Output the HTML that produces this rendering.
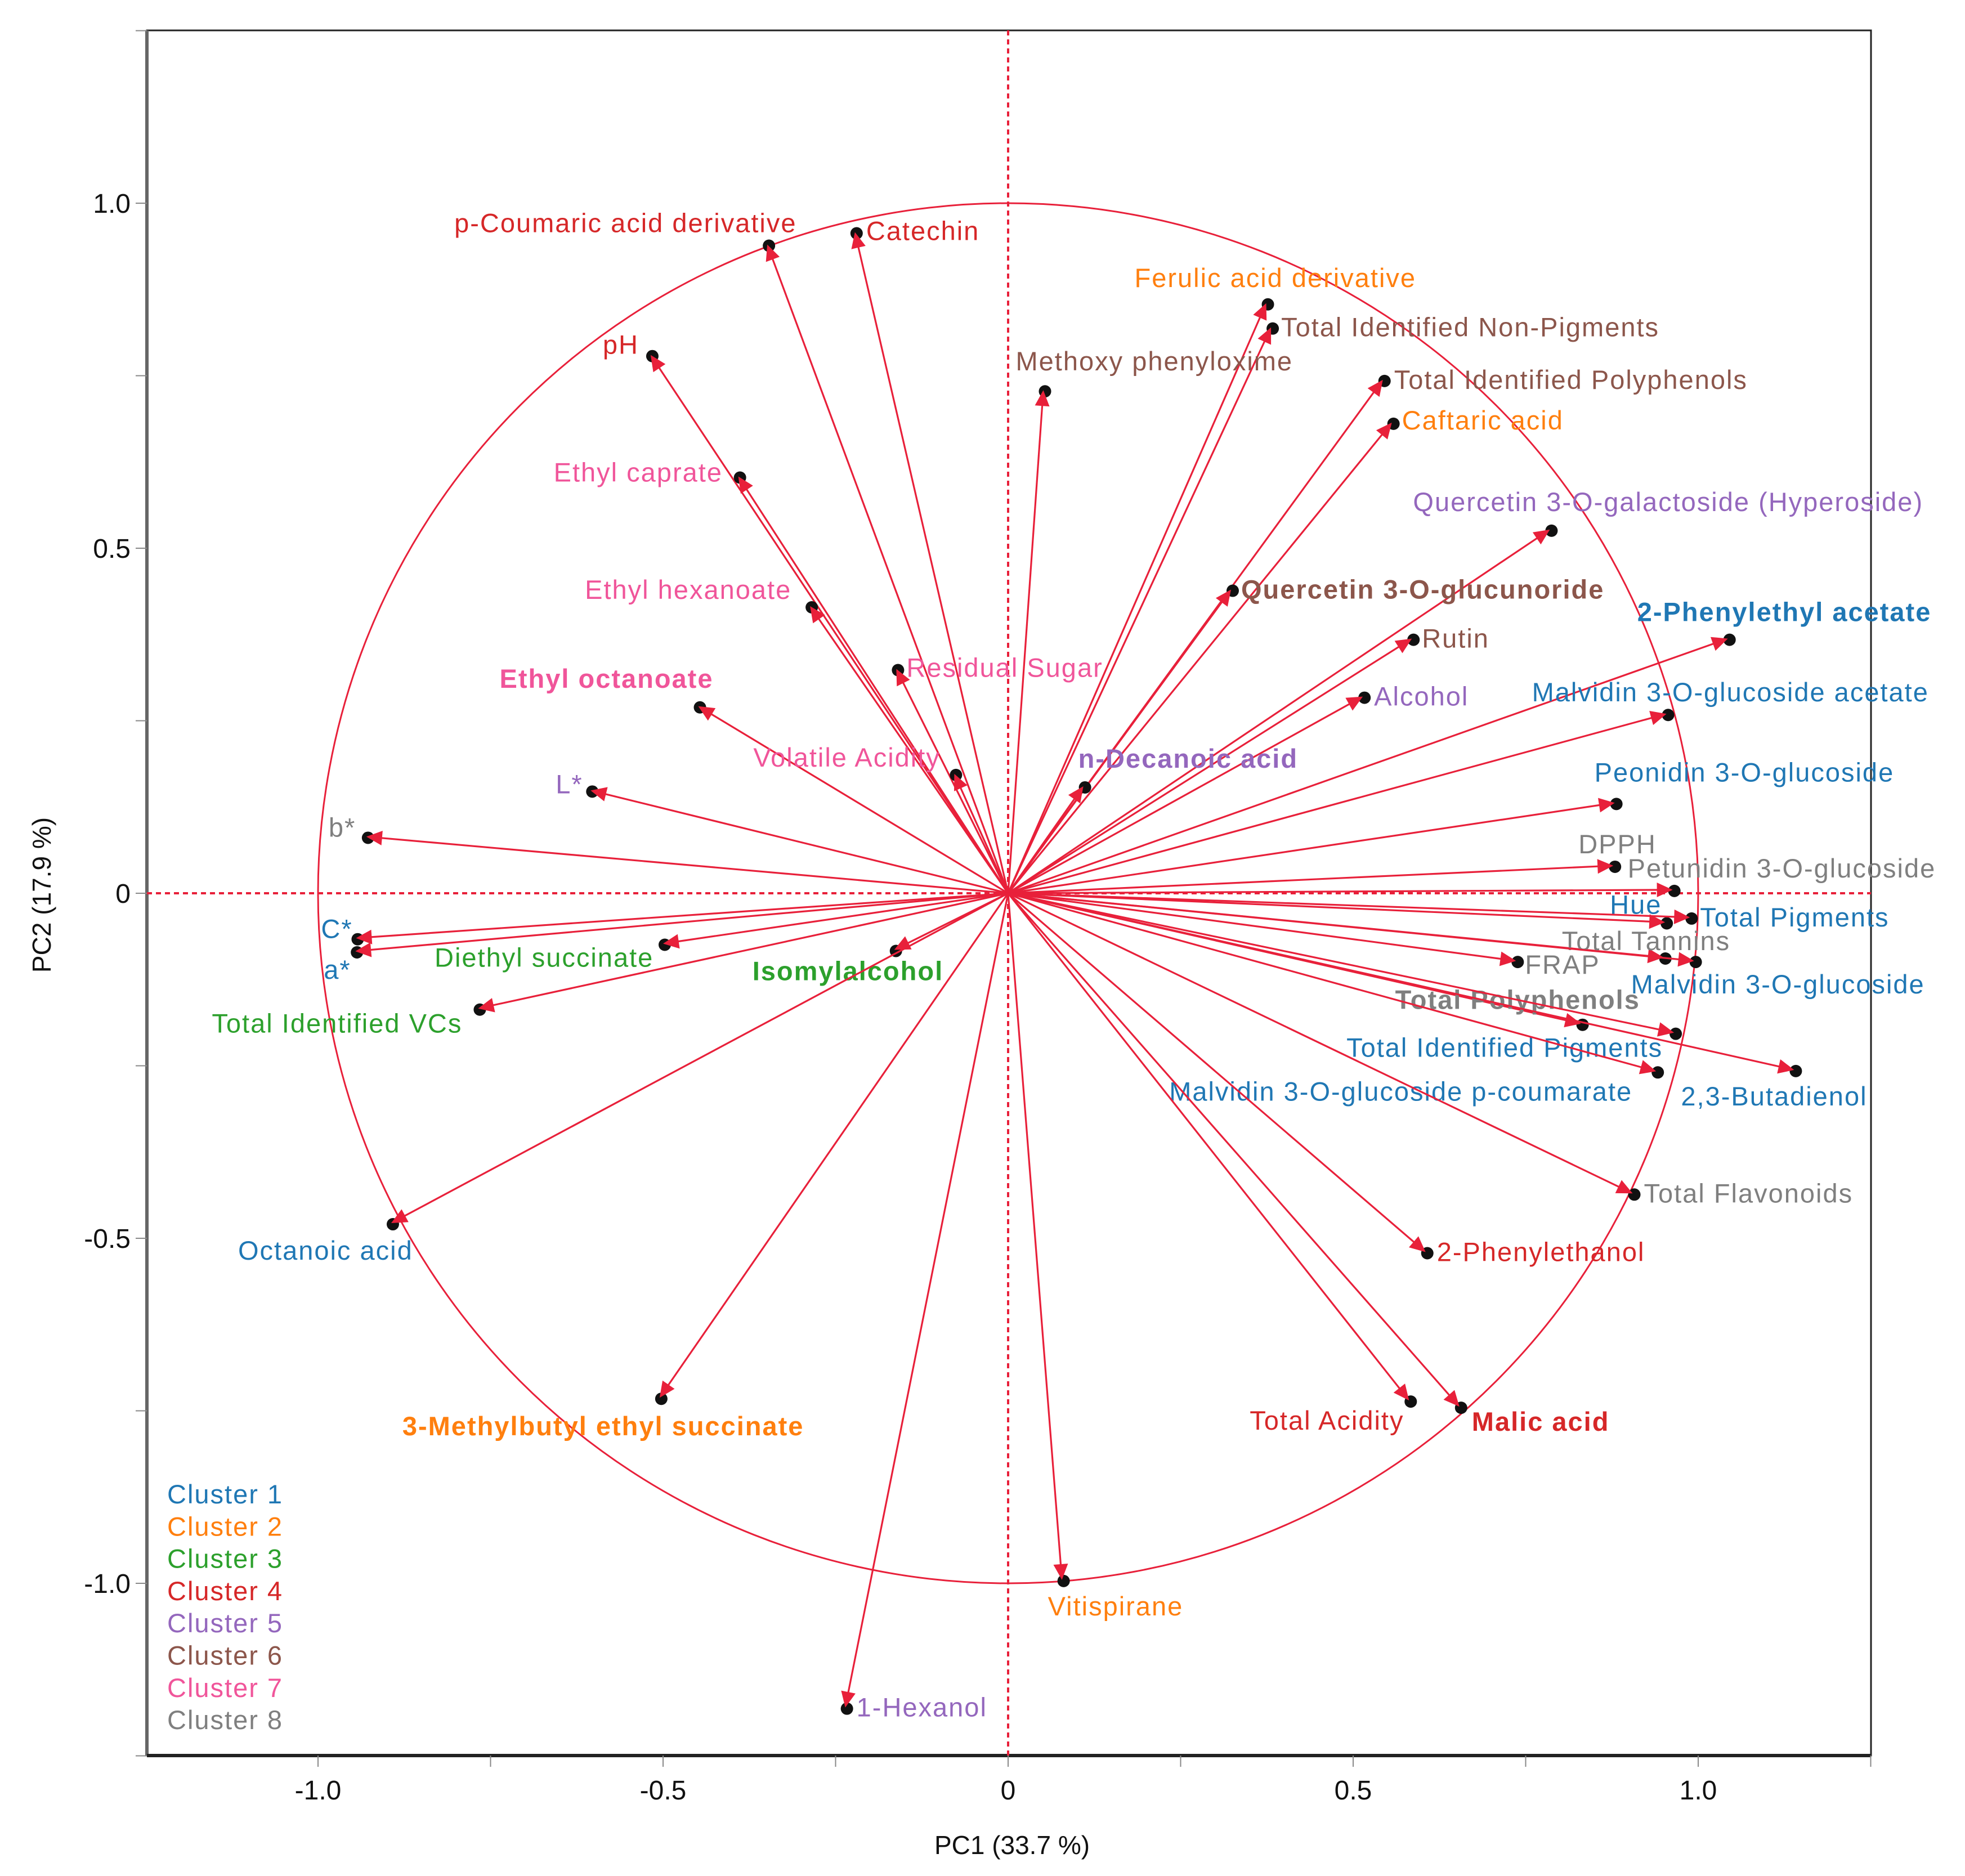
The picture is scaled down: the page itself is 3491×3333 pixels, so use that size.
<!DOCTYPE html>
<html><head><meta charset="utf-8">
<style>
html,body{margin:0;padding:0;background:#fff;}
svg{display:block;font-family:"Liberation Sans",sans-serif;}
</style></head>
<body>
<svg id="chart" width="3491" height="3333" viewBox="0 0 3491 3333" xmlns="http://www.w3.org/2000/svg">
<rect x="0" y="0" width="3491" height="3333" fill="#fff"/>
<g id="plot"></g>
</svg>
<script>
const variables = ["p-Coumaric acid derivative","Catechin","pH","Ferulic acid derivative","Total Identified Non-Pigments","Methoxy phenyloxime","Total Identified Polyphenols","Caftaric acid","Ethyl caprate","Quercetin 3-O-galactoside (Hyperoside)","Quercetin 3-O-glucunoride","Ethyl hexanoate","Rutin","2-Phenylethyl acetate","Residual Sugar","Alcohol","Ethyl octanoate","Malvidin 3-O-glucoside acetate","Volatile Acidity","n-Decanoic acid","L*","Peonidin 3-O-glucoside","b*","DPPH","Petunidin 3-O-glucoside","Hue","Total Pigments","C*","a*","Diethyl succinate","Isomylalcohol","Total Tannins","FRAP","Malvidin 3-O-glucoside","Total Identified VCs","Total Polyphenols","Total Identified Pigments","Malvidin 3-O-glucoside p-coumarate","2,3-Butadienol","Total Flavonoids","Octanoic acid","2-Phenylethanol","3-Methylbutyl ethyl succinate","Total Acidity","Malic acid","Vitispirane","1-Hexanol"];
const pc1 = [-0.349,-0.222,-0.518,0.374,0.381,0.051,0.543,0.556,-0.391,0.785,0.323,-0.287,0.585,1.043,-0.162,0.514,-0.449,0.954,-0.078,0.109,-0.605,0.879,-0.930,0.877,0.963,0.952,0.988,-0.945,-0.946,-0.500,-0.165,0.950,0.736,0.994,-0.768,0.830,0.965,0.939,1.139,0.905,-0.894,0.605,-0.505,0.581,0.654,0.078,-0.236];
const pc2 = [0.940,0.958,0.780,0.855,0.820,0.729,0.744,0.682,0.604,0.527,0.440,0.416,0.369,0.369,0.325,0.285,0.271,0.260,0.173,0.155,0.149,0.131,0.082,0.040,0.005,-0.042,-0.035,-0.065,-0.084,-0.073,-0.082,-0.093,-0.098,-0.098,-0.167,-0.189,-0.202,-0.258,-0.256,-0.435,-0.478,-0.520,-0.731,-0.735,-0.744,-0.995,-1.180];
const cluster = [4,4,4,2,6,6,6,2,7,5,6,7,6,1,7,5,7,1,7,5,5,1,8,8,8,1,1,1,1,3,3,8,8,1,3,8,1,1,1,8,1,4,2,4,4,2,5];
const boldLabel = [0,0,0,0,0,0,0,0,0,0,1,0,0,1,0,0,1,0,0,1,0,0,0,0,0,0,0,0,0,0,1,0,0,0,0,1,0,0,0,0,0,0,1,0,1,0,0];
const xTicks = [-1.0,-0.5,0,0.5,1.0];
const yTicks = [1.0,0.5,0,-0.5,-1.0];
const tickText = {"-1":"-1.0","-0.5":"-0.5","0":"0","0.5":"0.5","1":"1.0"};
const clusterNames = ["Cluster 1","Cluster 2","Cluster 3","Cluster 4","Cluster 5","Cluster 6","Cluster 7","Cluster 8"];
/* label layout offsets (px, layout only) */
const ldx = [-556,20,-85,-234,18,-49,20,18,-328,-243,18,-400,18,-161,18,20,-353,-239,-357,-9,-62,-36,-67,-62,-80,-98,18,-62,-56,-406,-252,-181,16,-112,-473,-330,-582,-865,-201,20,-272,20,-457,-283,22,-25,20];
const ldy = [-38,-2,-18,-45,0,-51,0,-4,-7,-49,0,-29,0,-47,-2,0,-49,-38,-29,-49,-11,-54,-16,-38,-38,-31,0,-16,33,25,38,-29,7,42,27,-42,27,36,47,0,49,0,51,36,27,47,0];

const colors = {1:"#1f77b4",2:"#ff7f0e",3:"#2ca02c",4:"#d62728",5:"#9467bd",6:"#8c564b",7:"#f0559a",8:"#7f7f7f"};
const NS="http://www.w3.org/2000/svg";
const X0=1791, Y0=1587, S=1226;
const L=261, T=54, R=3324, B=3119;
function sx(v){return X0+v*S;}
function sy(v){return Y0-v*S;}
const g=document.getElementById('plot');
function mk(tag,attrs,parent){const e=document.createElementNS(NS,tag);for(const k in attrs)e.setAttribute(k,attrs[k]);(parent||g).appendChild(e);return e;}

const frame=mk('rect',{x:L,y:T,width:R-L,height:B-T,fill:'none',stroke:'#222','stroke-width':3});


const lax=mk('line',{x1:L,y1:T,x2:L,y2:B,stroke:'#666','stroke-width':6});


const bax=mk('line',{x1:L,y1:B,x2:R,y2:B,stroke:'#222','stroke-width':6});



for(let v=-1.25; v<=1.26; v+=0.25){
  const x=sx(v); if(x<L-1||x>R+1) continue;
  const t=mk('line',{x1:x,y1:B,x2:x,y2:B+20,stroke:'#888','stroke-width':2});
  
  
}
for(let v=-1.25; v<=1.26; v+=0.25){
  const y=sy(v); if(y<T-1||y>B+1) continue;
  const t=mk('line',{x1:L-20,y1:y,x2:L,y2:y,stroke:'#888','stroke-width':2});
  
  
}
xTicks.forEach(v=>{
  const t=mk('text',{x:sx(v),y:3197,'text-anchor':'middle','font-size':48,fill:'#111'});
  t.textContent=tickText[String(v)];
  
  
});
yTicks.forEach(v=>{
  const t=mk('text',{x:232,y:sy(v)+17,'text-anchor':'end','font-size':48,fill:'#111'});
  t.textContent=tickText[String(v)];
  
  
});
const xt=mk('text',{x:1798,y:3294,'text-anchor':'middle','font-size':46,fill:'#111'});
xt.textContent='PC1  (33.7 %)';


const yt=mk('text',{x:0,y:0,'text-anchor':'middle','font-size':46,fill:'#111',transform:'translate(90,1590) rotate(-90)'});
yt.textContent='PC2  (17.9 %)';



const zv=mk('line',{x1:sx(0),y1:T,x2:sx(0),y2:B,stroke:'#e8203a','stroke-width':4,'stroke-dasharray':'9,7'});


const zh=mk('line',{x1:L,y1:sy(0),x2:R,y2:sy(0),stroke:'#e8203a','stroke-width':4,'stroke-dasharray':'9,7'});



const circ=mk('circle',{cx:sx(0),cy:sy(0),r:S,fill:'none',stroke:'#e8203a','stroke-width':3});



variables.forEach((name,i)=>{
  const x=sx(pc1[i]), y=sy(pc2[i]);
  const grp=mk('g',{});
  
  
  mk('line',{x1:X0,y1:Y0,x2:x,y2:y,stroke:'#e8203a','stroke-width':3.2},grp);
  mk('circle',{cx:x+3,cy:y+2,r:11,fill:'#111'},grp);
  const ang=Math.atan2(y-Y0,x-X0);
  const hl=28, hw=13;
  const bx=x-hl*Math.cos(ang), by=y-hl*Math.sin(ang);
  const px=-Math.sin(ang)*hw, py=Math.cos(ang)*hw;
  mk('polygon',{points:`${x},${y} ${bx+px},${by+py} ${bx-px},${by-py}`,fill:'#e8203a'},grp);
  const lb=mk('text',{x:x+ldx[i],y:y+ldy[i]+16,'font-size':47,'letter-spacing':2,fill:colors[cluster[i]],'font-weight':boldLabel[i]?'bold':'normal'},grp);
  lb.textContent=name;
});

clusterNames.forEach((n,i)=>{
  const t=mk('text',{x:297,y:2671+i*57.3,'font-size':47,'letter-spacing':2,fill:colors[i+1]});
  t.textContent=n;
  
  
});
</script>
</body></html>
